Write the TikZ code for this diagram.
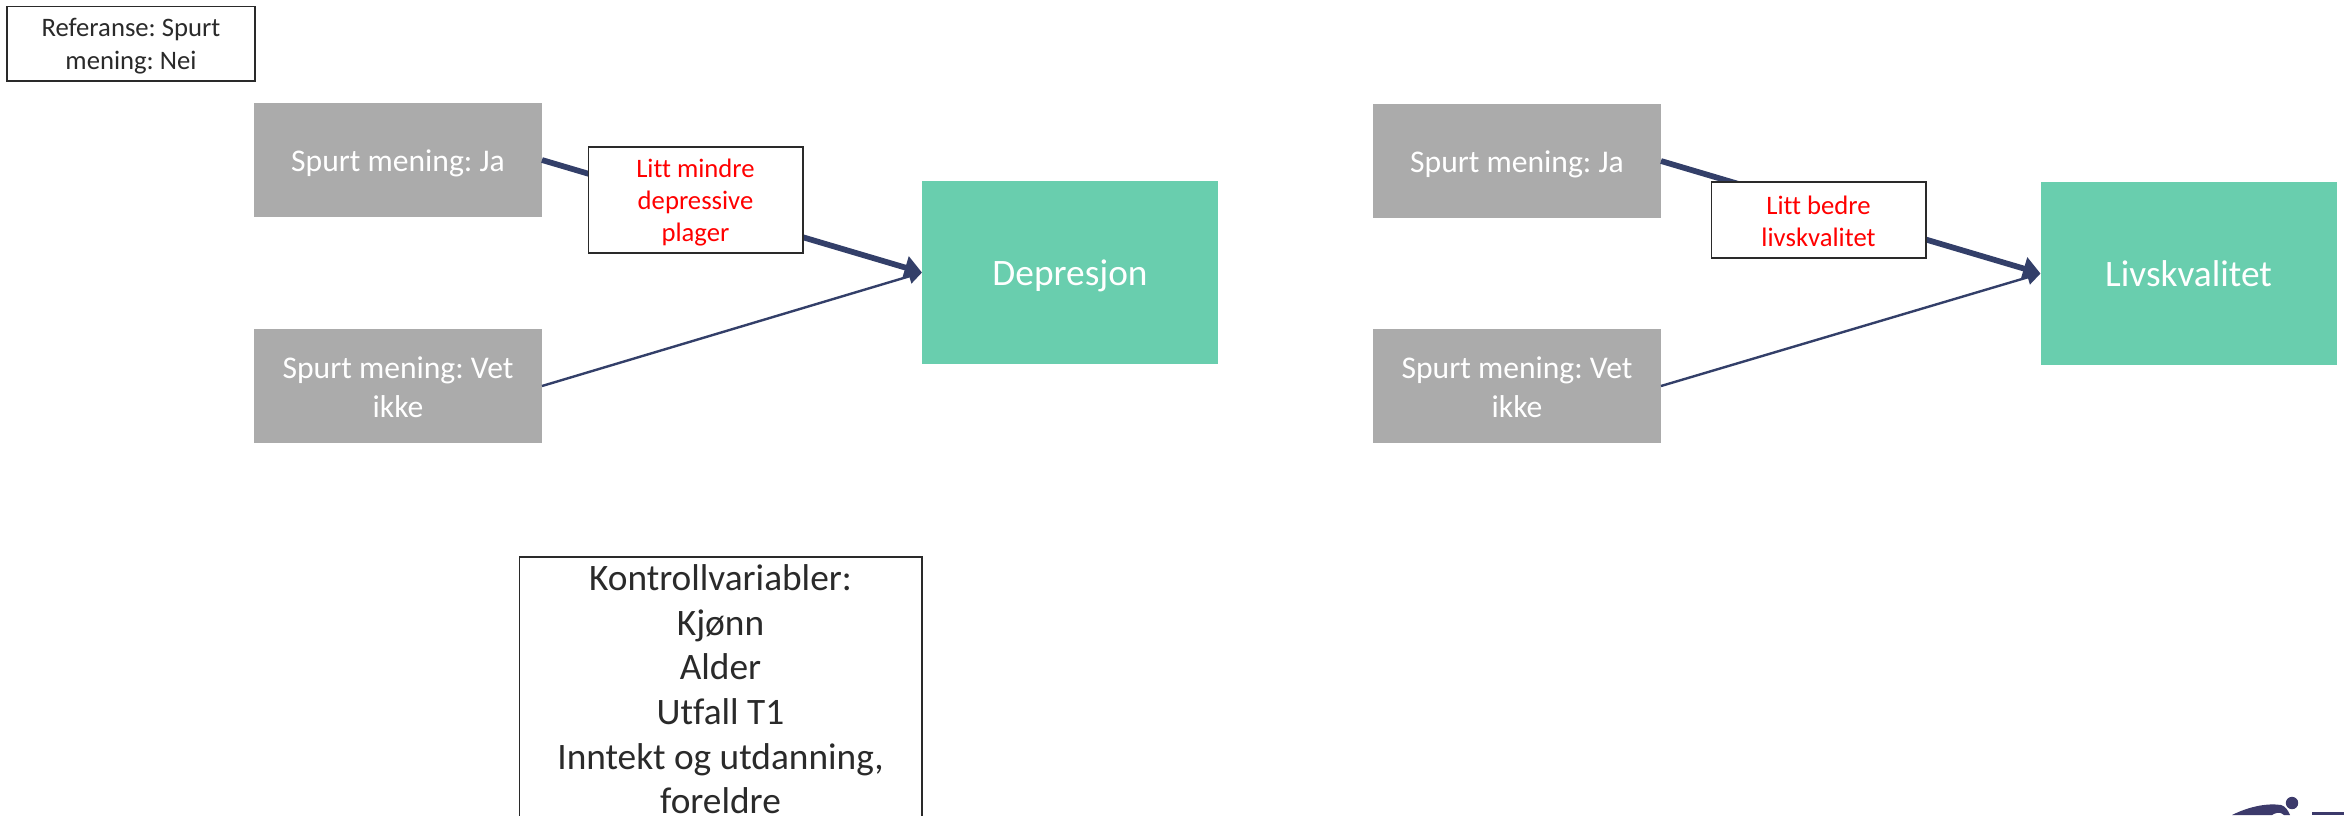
\documentclass[tikz,border=0pt]{standalone}
\usepackage{fontspec}
\setmainfont{Carlito}[Ligatures={NoCommon}]
\frenchspacing
\usetikzlibrary{arrows.meta}
\definecolor{grayfill}{HTML}{ABABAB}
\definecolor{tealfill}{HTML}{69CEAE}
\definecolor{navy}{HTML}{333F69}
\definecolor{logo}{HTML}{3C3A6B}
\definecolor{ink}{HTML}{2A2A2A}
% lowers the lines of a node without changing the size the node sees
\newcommand{\lowered}[2]{\raisebox{-#1}[\height][\depth]{\begin{tabular}{@{}c@{}}#2\end{tabular}}}
\tikzset{
  every node/.style={inner sep=0pt,outer sep=0pt},
  graybox/.style={fill=grayfill,text=white,minimum width=216pt,minimum height=85.5pt,font=\fontsize{23.7}{29}\selectfont},
  outcome/.style={fill=tealfill,text=white,minimum width=222pt,minimum height=137pt,font=\fontsize{28}{34}\selectfont},
  effect/.style={draw=ink,line width=1pt,fill=white,text=red,minimum width=161pt,font=\fontsize{20}{24}\selectfont},
  thickarrow/.style={draw=navy,line width=4.3pt,-{Triangle[length=13pt,width=17pt]}},
  thinarrow/.style={draw=navy,line width=1.8pt,-{Triangle[length=10pt,width=11pt]}},
}
\begin{document}
\begin{tikzpicture}[x=0.75pt,y=-0.75pt]
\useasboundingbox (0,0) rectangle (2344,815);
\clip (0,0) rectangle (2344,815);
\fill[white] (0,0) rectangle (2344,815);
\node[draw=ink,line width=1pt,fill=white,text=ink,minimum width=186pt,minimum height=56pt,font=\fontsize{20}{24.7}\selectfont] (ref) at (131,43.5) {\lowered{2.5pt}{Referanse: Spurt\\mening: Nei}};
\node[graybox] (ja1) at (398,160) {\lowered{3pt}{Spurt mening: Ja}};
\node[graybox] (vet1) at (398,386) {\lowered{3pt}{Spurt mening: Vet\\ikke}};
\node[outcome] (dep) at (1070,272.5) {\lowered{3pt}{Depresjon}};
\node[graybox] (ja2) at (1517,161) {\lowered{3pt}{Spurt mening: Ja}};
\node[graybox] (vet2) at (1517,386) {\lowered{3pt}{Spurt mening: Vet\\ikke}};
\node[outcome] (liv) at (2188.5,273.5) {\lowered{3pt}{Livskvalitet}};
\draw[thickarrow] (ja1.east) -- (dep.west);
\draw[thinarrow] (vet1.east) -- (dep.west);
\draw[thickarrow] (ja2.east) -- (liv.west);
\draw[thinarrow] (vet2.east) -- (liv.west);
\node[effect,minimum height=79.5pt] (lab1) at (695.5,200) {\lowered{2.5pt}{Litt mindre\\depressive\\plager}};
\node[effect,minimum height=57pt] (lab2) at (1818.5,220) {\lowered{3pt}{Litt bedre\\livskvalitet}};
\node[draw=ink,line width=1pt,fill=white,text=ink,minimum width=302pt,anchor=north,font=\fontsize{28}{33.5}\selectfont] (ctrl) at (720.5,557) {\begin{tabular}{@{}c@{}}\rule{0pt}{25pt}Kontrollvariabler:\\Kjønn\\Alder\\Utfall T1\\Inntekt og utdanning,\\foreldre\\ \\ \end{tabular}};
\fill[logo] (2292,803) circle (6.2);
\fill[logo] (2232,815) .. controls (2250,806) and (2268,803) .. (2281,805) .. controls (2285,806) and (2288,810) .. (2290,815) -- (2284,815) .. controls (2280,811) and (2275,813) .. (2272,815) -- cycle;
\fill[logo] (2312,812) rectangle (2344,815);
\end{tikzpicture}
\end{document}
